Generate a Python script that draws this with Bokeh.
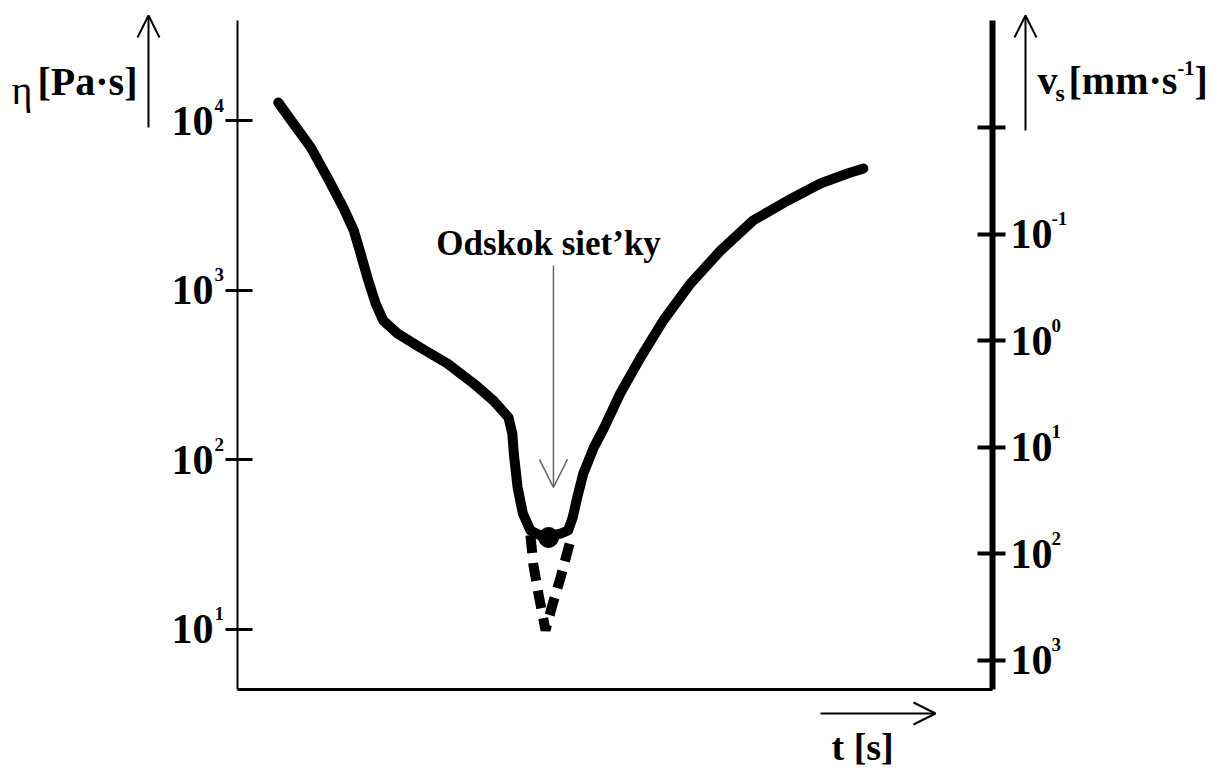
from bokeh.plotting import figure
from bokeh.models import (Range1d, LogAxis, LogScale, FixedTicker, Label,
                          LabelSet, ColumnDataSource, Arrow, OpenHead)
from bokeh.embed import file_html
from bokeh.resources import INLINE

# ---- data (time in arbitrary units 0..100, viscosity in Pa.s) ----
t_solid = [5.4, 7.4, 9.7, 11.9, 14.0, 15.4, 16.3, 17.2, 18.3, 19.3, 21.2, 24.2, 27.8,
           31.3, 33.9, 35.9, 36.4, 36.6, 37.1, 37.8, 38.8, 40.1, 41.5, 42.8, 43.8,
           44.4, 45.0, 45.8, 47.2, 48.5, 50.7, 53.4, 56.4, 60.0, 64.0, 68.3, 72.9,
           77.2, 80.8, 82.9]
eta_solid = [12850, 9660, 6980, 4645, 3090, 2260, 1652, 1193, 838, 665, 558, 461, 371,
             282, 224, 178, 143, 109, 68.9, 48.3, 38.4, 35.9, 35.9, 36.8, 38.4,
             45.8, 60.1, 83.2, 118.6, 153, 247, 403, 665, 1099, 1722, 2588, 3396,
             4277, 4898, 5245]
t_dash = [38.8, 39.2, 39.9, 40.8, 41.7, 42.8, 44.1]
eta_dash = [36.0, 23.9, 15.9, 9.9, 13.9, 20.3, 33.5]
t_dip = [41.2]
eta_dip = [34.9]

eta_ticks = [10, 100, 1000, 10000]
eta_tick_exps = ["1", "2", "3", "4"]
vs_ticks = [0.01, 0.1, 1, 10, 100, 1000]
vs_label_ticks = [0.1, 1, 10, 100, 1000]
vs_tick_exps = ["-1", "0", "1", "2", "3"]

annot_text = "Odskok siet\u2019ky"
annot_t = 41.2
annot_eta = 1652
arrow_t = 41.85
arrow_eta_start = 1403
arrow_eta_end = 68.9

# axis extents (data units)
t_axis = (0, 100)
eta_axis = (4.43, 39170)
vs_axis = (0.000991, 1871)

FONT = "Liberation Serif"
W, H = 1215, 772

# the plot frame covers the whole canvas; axes sit at fixed locations inside it
p = figure(width=W, height=H, output_backend="svg", toolbar_location=None,
           x_range=Range1d(-31.39, 129.54), y_range=Range1d(1.433, 51370),
           y_axis_type="log", min_border=0)
p.outline_line_color = None
p.grid.visible = False
p.background_fill_color = "white"
p.border_fill_color = "white"

p.extra_y_ranges = {"vs": Range1d(start=11240, end=0.000644)}
p.extra_y_scales = {"vs": LogScale()}

# left axis
ly = p.yaxis[0]
ly.ticker = FixedTicker(ticks=eta_ticks)
ly.fixed_location = t_axis[0]
ly.bounds = eta_axis
ly.axis_line_width = 2
ly.axis_line_color = "black"
ly.major_tick_line_width = 3
ly.major_tick_in = 15
ly.major_tick_out = 12
ly.minor_tick_line_color = None
ly.major_label_text_color = None

# bottom axis
bx = p.xaxis[0]
bx.fixed_location = eta_axis[0]
bx.bounds = t_axis
bx.axis_line_width = 3
bx.major_tick_line_color = None
bx.minor_tick_line_color = None
bx.major_label_text_color = None

# right axis (inverted log scale)
ry = LogAxis(y_range_name="vs", ticker=FixedTicker(ticks=vs_ticks))
ry.fixed_location = t_axis[1]
ry.bounds = vs_axis
ry.axis_line_width = 6
ry.major_tick_line_width = 4
ry.major_tick_in = 15
ry.major_tick_out = 13
ry.minor_tick_line_color = None
ry.major_label_text_color = None
p.add_layout(ry, "right")

# curves
p.line(t_solid, eta_solid, line_width=10, color="black", line_join="round", line_cap="round")
p.line(t_dash, eta_dash, line_width=10, color="black", line_dash="18 10")
p.scatter(t_dip, eta_dip, size=20, color="black")

# tick labels (left)
lsrc = ColumnDataSource(dict(y=eta_ticks, base=["10"] * len(eta_ticks), exp=eta_tick_exps))
p.add_layout(LabelSet(x=213, y="y", x_units="screen", text="base", source=lsrc,
                      text_align="right", text_baseline="middle", text_color="black",
                      text_font=FONT, text_font_style="bold", text_font_size="42px"))
p.add_layout(LabelSet(x=214, y="y", x_units="screen", text="exp", source=lsrc,
                      text_align="left", text_baseline="top", y_offset=22, text_color="black",
                      text_font=FONT, text_font_style="bold", text_font_size="19px"))

# tick labels (right)
rsrc = ColumnDataSource(dict(y=vs_label_ticks, base=["10"] * len(vs_label_ticks), exp=vs_tick_exps))
p.add_layout(LabelSet(x=1010, y="y", x_units="screen", y_range_name="vs", text="base",
                      source=rsrc, text_align="left", text_baseline="middle", text_color="black",
                      text_font=FONT, text_font_style="bold", text_font_size="42px"))
p.add_layout(LabelSet(x=1051, y="y", x_units="screen", y_range_name="vs", text="exp",
                      source=rsrc, text_align="left", text_baseline="top", y_offset=22,
                      text_color="black",
                      text_font=FONT, text_font_style="bold", text_font_size="19px"))

def lab(x, y, text, size, style="bold"):
    p.add_layout(Label(x=x, y=H - y, x_units="screen", y_units="screen", text=text,
                       y_offset=round(0.25 * size),
                       text_font=FONT, text_font_style=style, text_font_size=f"{size}px",
                       text_color="black", text_baseline="alphabetic", text_align="left"))

# axis titles (x from left, y = baseline from top)
lab(11, 100, "\u03b7", 40, "normal")
lab(37, 91, "[Pa\u00b7s]", 40)
lab(1037, 90, "v", 40)
lab(1055, 98, "s", 24)
lab(1068, 90, "[mm\u00b7s", 40)
lab(1177, 72, "-1", 20)
lab(1194, 90, "]", 40)
lab(831, 756, "t [s]", 38)

# axis arrows
def arrow(x0, y0, x1, y1):
    p.add_layout(Arrow(x_start=x0, y_start=H - y0, x_end=x1, y_end=H - y1,
                       start_units="screen", end_units="screen", line_width=2,
                       line_color="black",
                       end=OpenHead(size=22, line_width=2, line_color="black")))

arrow(148, 127, 148, 15)
arrow(1025, 130, 1025, 15)
arrow(820, 713, 935, 713)

# annotation
p.add_layout(Label(x=annot_t, y=annot_eta, text=annot_text, text_font=FONT,
                   y_offset=10,
                   text_font_style="bold", text_font_size="35px", text_color="black",
                   text_align="center", text_baseline="alphabetic"))
p.add_layout(Arrow(x_start=arrow_t, y_start=arrow_eta_start, x_end=arrow_t,
                   y_end=arrow_eta_end, line_color="#666666", line_width=1.5,
                   end=OpenHead(size=28, line_color="#666666", line_width=1.5)))

open("out.html", "w").write(file_html(p, INLINE))
